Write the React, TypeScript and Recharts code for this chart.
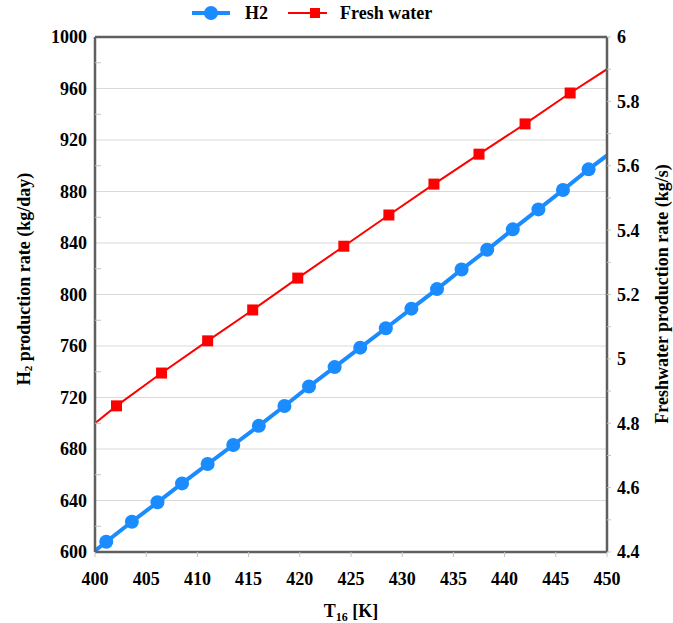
import React from "react";
import {
  LineChart,
  Line,
  XAxis,
  YAxis,
  CartesianGrid,
  ReferenceLine,
  Legend,
} from "recharts";

const FONT = '"Liberation Serif", "Times New Roman", serif';
const AXIS_GRAY = "#5f5f5f";
const TICK_GRAY = "#c4c4c4";
const H2_BLUE = "#1a8cff";
const FW_RED = "#ff0000";

// x axis (T16, K)
const tempTicks = [400, 405, 410, 415, 420, 425, 430, 435, 440, 445, 450];

// left axis (kg/day)
const h2Ticks = [600, 640, 680, 720, 760, 800, 840, 880, 920, 960, 1000];
const h2MinorTicks = [620, 660, 700, 740, 780, 820, 860, 900, 940, 980];

// right axis (kg/s)
const fwTicks = [4.4, 4.5, 4.6, 4.7, 4.8, 4.9, 5, 5.1, 5.2, 5.3, 5.4, 5.5, 5.6, 5.7, 5.8, 5.9, 6];

// H2 series: first and last entries are where the line meets the frame
const h2Temps = [
  400, 401.1, 403.6, 406.1, 408.5, 411.0, 413.5, 416.0, 418.5, 420.9, 423.4,
  425.9, 428.4, 430.9, 433.4, 435.8, 438.3, 440.8, 443.3, 445.7, 448.2, 450,
];
const h2Rates = [
  601, 608.0, 623.5, 638.6, 653.3, 668.3, 683.1, 698.0, 713.4, 728.5, 743.6,
  758.7, 773.8, 789.0, 804.2, 819.4, 834.7, 850.6, 866.1, 881.2, 897.2, 908,
];

// Fresh water series: same idea, ends are on the frame
const fwTemps = [
  400, 402.1, 406.5, 411.0, 415.4, 419.8, 424.3, 428.7, 433.1, 437.5, 442.0, 446.4, 450,
];
const fwRates = [
  4.8, 4.854, 4.956, 5.056, 5.152, 5.251, 5.35, 5.447, 5.543, 5.636, 5.73, 5.826, 5.9,
];

const h2Data = h2Temps.map((t, i) => ({ t, v: h2Rates[i] }));
const fwData = fwTemps.map((t, i) => ({ t, v: fwRates[i] }));

const tickStyle = { fill: "#000", fontSize: 18, fontWeight: 700, fontFamily: FONT };

function H2Dot(props: any) {
  const { cx, cy, index } = props;
  if (index === 0 || index === h2Data.length - 1) return <g key={`h2-${index}`} />;
  return <circle key={`h2-${index}`} cx={cx} cy={cy} r={7} fill={H2_BLUE} />;
}

function FwDot(props: any) {
  const { cx, cy, index } = props;
  if (index === 0 || index === fwData.length - 1) return <g key={`fw-${index}`} />;
  return <rect key={`fw-${index}`} x={cx - 5.5} y={cy - 5.5} width={11} height={11} fill={FW_RED} />;
}

function RightTick(props: any) {
  const { x, y, payload, index } = props;
  if (index % 2 !== 0) return <g />;
  const label = String(Number(Number(payload.value).toFixed(1)));
  return (
    <text x={x} y={y} dy="0.355em" textAnchor="start" {...tickStyle}>
      {label}
    </text>
  );
}

function LegendBox() {
  const txt: React.CSSProperties = {
    position: "absolute",
    top: 0,
    lineHeight: "26px",
    fontSize: 18,
    fontWeight: 700,
    fontFamily: FONT,
    color: "#000",
    whiteSpace: "nowrap",
  };
  return (
    <div style={{ position: "relative", width: 673, height: 28 }}>
      <svg style={{ position: "absolute", left: 192, top: 5 }} width={38} height={16}>
        <line x1={0} y1={8} x2={38} y2={8} stroke={H2_BLUE} strokeWidth={4} />
        <circle cx={19} cy={8} r={7} fill={H2_BLUE} />
      </svg>
      <span style={{ ...txt, left: 245 }}>H2</span>
      <svg style={{ position: "absolute", left: 288, top: 5 }} width={39} height={16}>
        <line x1={0} y1={8} x2={39} y2={8} stroke={FW_RED} strokeWidth={2} />
        <rect x={22} y={3} width={10} height={10} fill={FW_RED} />
      </svg>
      <span style={{ ...txt, left: 340 }}>Fresh water</span>
    </div>
  );
}

export default function App() {
  return (
    <div style={{ position: "absolute", left: 0, top: 0, width: 673, height: 623, background: "#fff" }}>
      <LineChart width={673} height={623} margin={{ top: 37, right: 0, bottom: 0, left: 0 }}>
        <CartesianGrid yAxisId="left" vertical={false} stroke="#d9d9d9" strokeWidth={1} />
        <XAxis
          dataKey="t"
          type="number"
          domain={[400, 450]}
          ticks={tempTicks}
          allowDataOverflow
          height={71}
          axisLine={{ stroke: AXIS_GRAY, strokeWidth: 2.5 }}
          tickLine={{ stroke: TICK_GRAY }}
          tickSize={5}
          tickMargin={15}
          tick={tickStyle}
          label={{
            content: () => (
              <text x={351} y={617} textAnchor="middle" fontSize={18} fontWeight={700} fontFamily={FONT} fill="#000">
                T
                <tspan fontSize={12} dy={4}>16</tspan>
                <tspan dy={-4}> [K]</tspan>
              </text>
            ),
          }}
        />
        <YAxis
          yAxisId="left"
          domain={[600, 1000]}
          ticks={h2Ticks}
          allowDataOverflow
          width={95}
          axisLine={{ stroke: AXIS_GRAY, strokeWidth: 2.5 }}
          tickLine={false}
          tickSize={0}
          tickMargin={8}
          tick={tickStyle}
          label={{
            content: () => (
              <text
                x={24}
                y={279}
                transform="rotate(-90, 24, 279)"
                textAnchor="middle"
                dominantBaseline="central"
                fontSize={18}
                fontWeight={700}
                fontFamily={FONT}
                fill="#000"
              >
                H
                <tspan fontSize={11} dy={4}>2</tspan>
                <tspan dy={-4}> production rate (kg/day)</tspan>
              </text>
            ),
          }}
        />
        <YAxis
          yAxisId="leftMinor"
          mirror
          domain={[600, 1000]}
          ticks={h2MinorTicks}
          allowDataOverflow
          axisLine={false}
          tickLine={{ stroke: TICK_GRAY }}
          tickSize={6}
          tick={() => <g />}
        />
        <YAxis
          yAxisId="right"
          orientation="right"
          domain={[4.4, 6]}
          ticks={fwTicks}
          allowDataOverflow
          interval={0}
          width={66}
          axisLine={{ stroke: AXIS_GRAY, strokeWidth: 2.5 }}
          tickLine={{ stroke: TICK_GRAY }}
          tickSize={4}
          tickMargin={6}
          tick={<RightTick />}
          label={{
            content: () => (
              <text
                x={662}
                y={294}
                transform="rotate(-90, 662, 294)"
                textAnchor="middle"
                dominantBaseline="central"
                fontSize={18}
                fontWeight={700}
                fontFamily={FONT}
                fill="#000"
              >
                Freshwater production rate (kg/s)
              </text>
            ),
          }}
        />
        <ReferenceLine yAxisId="left" y={1000} stroke={AXIS_GRAY} strokeWidth={2.5} />
        <Legend
          verticalAlign="middle"
          layout="horizontal"
          wrapperStyle={{ top: 0, left: 0, width: 673, height: 28 }}
          content={() => <LegendBox />}
        />
        <Line
          data={fwData}
          dataKey="v"
          yAxisId="right"
          type="linear"
          stroke={FW_RED}
          strokeWidth={2}
          dot={FwDot}
          activeDot={false}
          isAnimationActive={false}
        />
        <Line
          data={h2Data}
          dataKey="v"
          yAxisId="left"
          type="linear"
          stroke={H2_BLUE}
          strokeWidth={4}
          dot={H2Dot}
          activeDot={false}
          isAnimationActive={false}
        />
      </LineChart>
    </div>
  );
}
